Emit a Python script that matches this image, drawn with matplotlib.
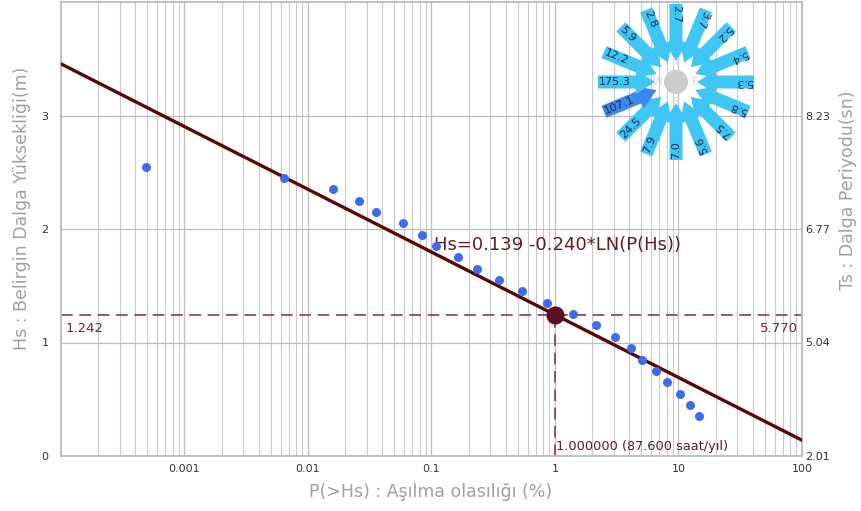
import numpy as np
import matplotlib
matplotlib.use("Agg")
import matplotlib.pyplot as plt
from matplotlib.patches import FancyArrow, Circle
from matplotlib.ticker import FixedLocator, NullFormatter
import matplotlib.transforms as mtransforms

# exceedance probability (%) and wave heights
p_percent = [0.00049, 0.0064, 0.0158, 0.026, 0.0357, 0.059, 0.084, 0.109, 0.165,
             0.235, 0.353, 0.543, 0.865, 1.40, 2.15, 3.07, 4.14, 5.08, 6.6,
             8.1, 10.3, 12.4, 14.7]
hs_values = [2.55, 2.45, 2.35, 2.25, 2.15, 2.05, 1.95, 1.85, 1.75, 1.65, 1.55,
             1.45, 1.35, 1.25, 1.15, 1.05, 0.95, 0.85, 0.75, 0.65, 0.55, 0.45, 0.35]

# fit Hs = a + b*ln(P)
fit_a = 0.139
fit_b = -0.240
design_p = 1.0
design_hs = 1.242
design_ts = "5.770"

y_ticks = [0, 1, 2, 3]
ts_labels = ["2.01", "5.04", "6.77", "8.23"]
x_ticks = [0.001, 0.01, 0.1, 1, 10, 100]
x_ticklabels = ["0.001", "0.01", "0.1", "1", "10", "100"]

# wind rose (16 directions, clockwise from N)
rose_dirs = ["N", "NNE", "NE", "ENE", "E", "ESE", "SE", "SSE",
             "S", "SSW", "SW", "WSW", "W", "WNW", "NW", "NNW"]
rose_values = ["2.7", "3.7", "5.2", "5.4", "5.3", "5.8", "7.5", "5.6",
               "7.0", "7.9", "24.5", "107.1", "175.3", "12.2", "5.9", "2.8"]
rose_highlight = "WSW"

W, H = 862, 511
fig = plt.figure(figsize=(W / 100, H / 100), dpi=100)
ax = fig.add_axes([61 / W, 1 - 456 / H, (802 - 61) / W, (456 - 2) / H])

ax.set_xscale("log")
ax.set_xlim(1e-4, 100)
ax.set_ylim(0, 4)

grid_c = "#c9c9c9"
ax.xaxis.set_major_locator(FixedLocator(x_ticks))
minors = [m * 10.0 ** e for e in range(-4, 2) for m in range(2, 10)]
ax.xaxis.set_minor_locator(FixedLocator(minors))
ax.xaxis.set_minor_formatter(NullFormatter())
ax.set_xticklabels(x_ticklabels)
ax.set_yticks(y_ticks)
ax.grid(True, which="major", axis="both", color="#bdbdbd", lw=0.9)
ax.grid(True, which="minor", axis="x", color=grid_c, lw=0.8)
ax.set_axisbelow(True)
ax.tick_params(axis="both", which="both", length=0, labelsize=8, colors="#333333")
ax.tick_params(axis="x", pad=6)
ax.tick_params(axis="y", pad=9)
for s in ax.spines.values():
    s.set_color("#bbbbbb")
    s.set_linewidth(1.3)

ax2 = ax.twinx()
ax2.set_ylim(0, 4)
ax2.set_yticks(y_ticks)
ax2.set_yticklabels(ts_labels)
ax2.tick_params(axis="y", length=0, labelsize=8, colors="#333333", pad=2)
for s in ax2.spines.values():
    s.set_visible(False)

# fitted line
xl = np.array(ax.get_xlim())
ax.plot(xl, fit_a + fit_b * np.log(xl / 100.0), color="#5a0606", lw=2.4, zorder=3)

# data points
ax.scatter(p_percent, hs_values, s=42, color="#3c6cf2", zorder=4, linewidths=0)

# design point
dash_c = "#8a3a4c"
ax.axhline(design_hs, color=dash_c, lw=1.2, ls=(0, (7, 4)), zorder=2)
ax.plot([design_p, design_p], [0, design_hs], color=dash_c, lw=1.2,
        ls=(0, (7, 4)), zorder=2)
ax.scatter([design_p], [design_hs], s=170, color="#5c0f22", zorder=5, linewidths=0)

trans = mtransforms.blended_transform_factory(ax.transAxes, ax.transData)
ax.text(0.006, design_hs - 0.06, f"{design_hs:.3f}", transform=trans, ha="left",
        va="top", fontsize=9.5, color="#6b2a3a")
ax.text(0.994, design_hs - 0.06, design_ts, transform=trans, ha="right",
        va="top", fontsize=9.5, color="#6b2a3a")
ax.text(design_p * 1.02, 0.08, "1.000000 (87.600 saat/yıl)", ha="left",
        va="center", fontsize=9.3, color="#5a1a2a")
ax.text(0.105, 1.855, "Hs=0.139 -0.240*LN(P(Hs))", ha="left", va="center",
        fontsize=13, color="#5e1e22")

# axis titles
lab_c = "#a0a0a0"
fig.text(22 / W, 1 - 208 / H, "Hs : Belirgin Dalga Yüksekliği(m)", rotation=90,
         ha="center", va="center", fontsize=12.5, color=lab_c)
fig.text(848 / W, 1 - 190 / H, "Ts : Dalga Periyodu(sn)", rotation=90,
         ha="center", va="center", fontsize=12.5, color=lab_c)
fig.text(431 / W, 1 - 492 / H, "P(>Hs) : Aşılma olasılığı (%)", ha="center",
         va="center", fontsize=12.5, color=lab_c)

# wind rose inset
cx, cy, half = 676, 82, 85
rax = fig.add_axes([(cx - half) / W, 1 - (cy + half) / H, 2 * half / W, 2 * half / H])
rax.set_xlim(-half, half)
rax.set_ylim(-half, half)
rax.set_aspect("equal")
rax.axis("off")
r_out, r_in = 78, 21
for i, (d, v) in enumerate(zip(rose_dirs, rose_values)):
    th = np.deg2rad(i * 22.5)
    ux, uy = np.sin(th), np.cos(th)
    col = "#3b88ee" if d == rose_highlight else "#3fc6f4"
    rax.add_patch(FancyArrow(r_out * ux, r_out * uy, -(r_out - r_in) * ux,
                             -(r_out - r_in) * uy, width=13, head_width=24,
                             head_length=19, length_includes_head=True,
                             color=col, lw=0))
    ang = np.rad2deg(np.arctan2(-uy, -ux))
    rax.text((r_out - 1) * ux, (r_out - 1) * uy, v, rotation=ang,
             rotation_mode="anchor", ha="left", va="center", fontsize=8,
             color="#1a2c4c")
rax.add_patch(Circle((0, 0), 12, color="#cccccc", lw=0))
for lbl, (lx, ly) in zip(["N", "E", "S", "W"], [(0, 20), (19, 0), (0, -20), (-19, 0)]):
    rax.text(lx, ly, lbl, ha="center", va="center", fontsize=7, color="#d9d9d9")

fig.savefig("out.png", dpi=100)
